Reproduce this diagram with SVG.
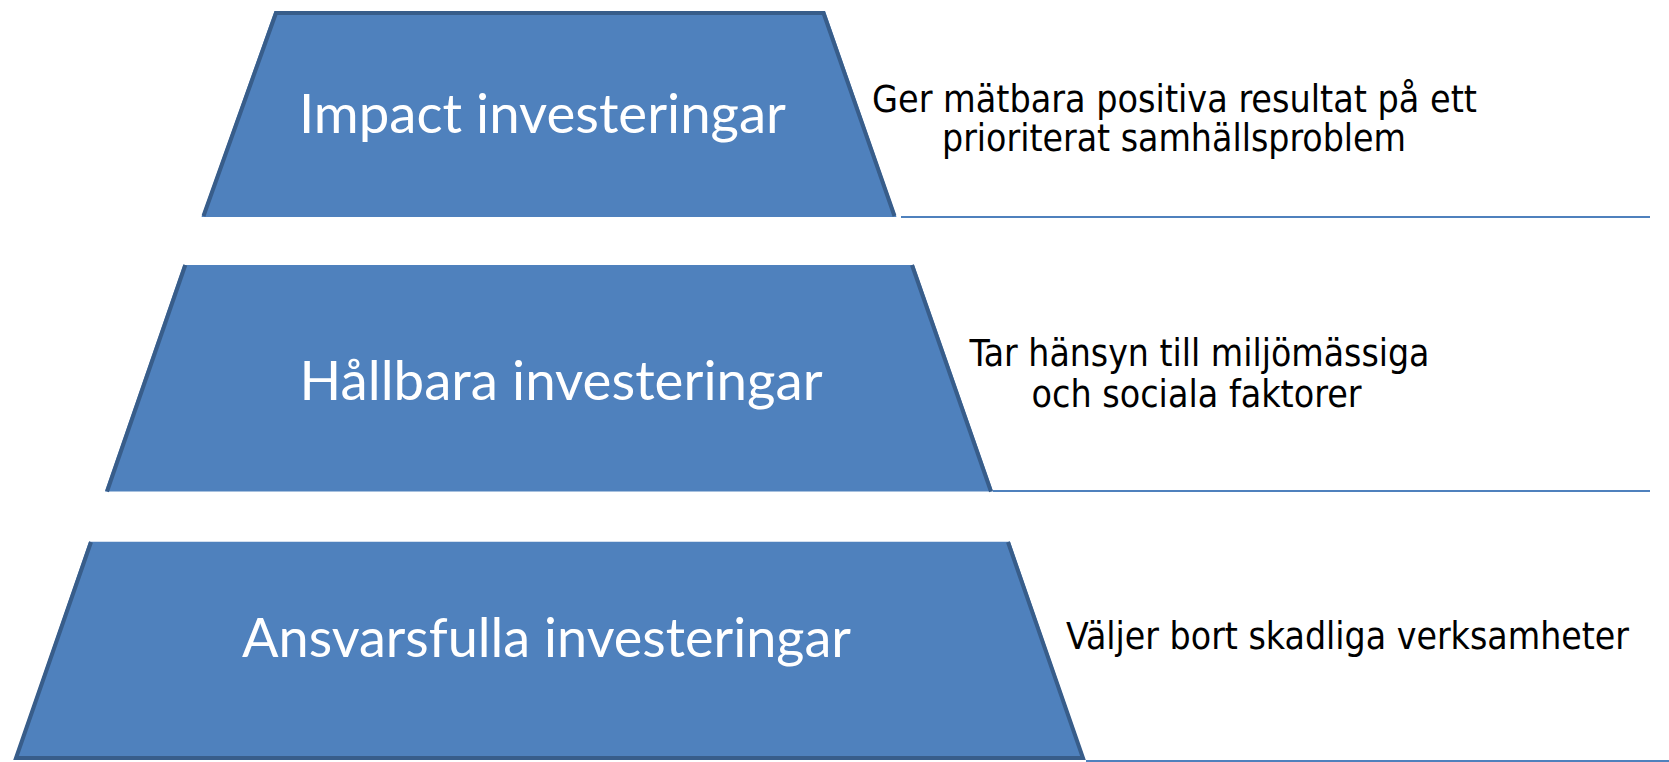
<svg xmlns="http://www.w3.org/2000/svg" width="1669" height="762" viewBox="0 0 1669 762">
<style>
.fill{fill:#4F81BD;stroke:none}
.edge{fill:none;stroke:#385D8A;stroke-width:4;stroke-linejoin:miter}
.title{font-family:Lato,"Open Sans","Liberation Sans",sans-serif;font-size:54px;fill:#FFFFFF}
.desc{font-family:"DejaVu Sans Condensed","DejaVu Sans","Liberation Sans",sans-serif;font-stretch:condensed;font-size:37px;fill:#000000}
.conn{stroke:#4F81BD;stroke-width:2;fill:none}
</style>
<rect x="0" y="0" width="1669" height="762" fill="#FFFFFF"/>
<g id="connectors">
<line class="conn" x1="901" y1="217" x2="1650" y2="217"/>
<line class="conn" x1="993" y1="491" x2="1650" y2="491"/>
<line class="conn" x1="1086" y1="761" x2="1669" y2="761"/>
</g>
<g id="node-impact">
<polygon class="fill" points="274.5,11 825,11 896.5,217 201.5,217"/>
<polyline class="edge" points="203.5,216 276,13 823.5,13 894.5,216"/>
<text class="title" x="299" y="133" textLength="487" lengthAdjust="spacingAndGlyphs">Impact investeringar</text>
</g>
<g id="desc-impact">
<text class="desc" x="872" y="111.5" textLength="605" lengthAdjust="spacingAndGlyphs">Ger mätbara positiva resultat på ett</text>
<text class="desc" x="942" y="151" textLength="464" lengthAdjust="spacingAndGlyphs">prioriterat samhällsproblem</text>
</g>
<g id="node-hallbara">
<polygon class="fill" points="183.3,265 914,265 993,491.5 105,491.5"/>
<line class="edge" x1="185.3" y1="265" x2="107" y2="491.5"/>
<line class="edge" x1="912" y1="265" x2="991" y2="491.5"/>
<text class="title" x="299.6" y="399.5" textLength="523" lengthAdjust="spacingAndGlyphs">Hållbara investeringar</text>
</g>
<g id="desc-hallbara">
<text class="desc" x="969.5" y="366" textLength="460" lengthAdjust="spacingAndGlyphs">Tar hänsyn till miljömässiga</text>
<text class="desc" x="1031.5" y="406.5" textLength="330" lengthAdjust="spacingAndGlyphs">och sociala faktorer</text>
</g>
<g id="node-ansvarsfulla">
<polygon class="fill" points="89,541.7 1010,541.7 1085,760 14,760"/>
<polyline class="edge" points="91,542 16,758 1083,758 1008,542"/>
<text class="title" x="242" y="657" textLength="609" lengthAdjust="spacingAndGlyphs">Ansvarsfulla investeringar</text>
</g>
<g id="desc-ansvarsfulla">
<text class="desc" x="1066" y="648.5" textLength="563" lengthAdjust="spacingAndGlyphs">Väljer bort skadliga verksamheter</text>
</g>
</svg>
